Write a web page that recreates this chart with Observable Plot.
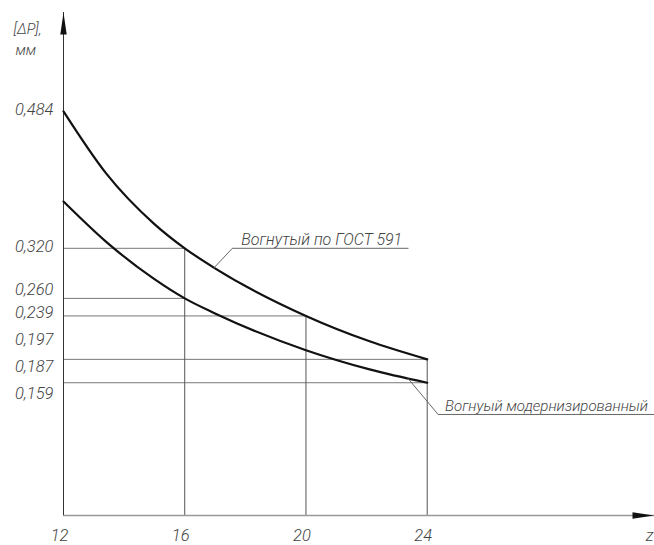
<!DOCTYPE html>
<html><head><meta charset="utf-8">
<script src="https://cdn.jsdelivr.net/npm/d3@7"></script>
<script src="https://cdn.jsdelivr.net/npm/@observablehq/plot@0.6"></script>
<style>body{margin:0;background:#fff} svg{display:block}</style>
</head><body><div id="chart"></div>
<script>
// ---- data ----
const zValues   = [12, 13.4, 15, 16, 17, 20, 22.1, 24];
const gost591   = [0.484, 0.410, 0.349, 0.320, 0.296, 0.239, 0.2086, 0.187];
const modern    = [0.376, 0.328, 0.283, 0.260, 0.242, 0.198, 0.175, 0.159];
const xTicks    = [12, 16, 20, 24];
const xTickLabels = ["12", "16", "20", "24"];
const yTicks    = [0.484, 0.320, 0.260, 0.239, 0.197, 0.187, 0.159];
const yTickLabels = ["0,484", "0,320", "0,260", "0,239", "0,197", "0,187", "0,159"];
const hGuideY   = [0.320, 0.260, 0.239, 0.187, 0.159];
const hGuideTo  = [16, 16, 20, 24, 24];
const vGuideX   = [16, 20, 24];
const vGuideTo  = [0.320, 0.239, 0.187];
const seriesNames = ["Вогнутый по ГОСТ 591", "Вогнуый модернизированный"];
const leaderGostX = [16.95, 17.57, 23.37];
const leaderGostY = [0.296, 0.320, 0.320];
const leaderModX  = [23.37, 24.36, 31.5];
const leaderModY  = [0.164, 0.121, 0.121];
const yAxisTitle = ["[ΔP],", "мм"];
const xAxisTitle = "z";

// ---- layout (not data) ----
const xMax = 31.5, yMax = 0.6024;
const yLabelNudge = [-2, -2, -9, -3, -11, 7, 11];
const font = "Roboto,'Open Sans',sans-serif";
const txt = {fontFamily: font, fontStyle: "italic", fontWeight: 300, fill: "#444", fontSize: 16.5};

const rows = (xs, ys) => xs.map((x, i) => ({x, y: ys[i]}));
const arrowHead = {draw(ctx) { ctx.moveTo(0, 0); ctx.lineTo(-3.2, 22); ctx.lineTo(3.2, 22); ctx.closePath(); }};

const marks = [
  // guides
  Plot.ruleY(hGuideY.map((y, i) => ({y, x2: hGuideTo[i]})), {y: "y", x1: 12, x2: "x2", stroke: "#777", strokeWidth: 1}),
  Plot.ruleX(vGuideX.map((x, i) => ({x, y2: vGuideTo[i]})), {x: "x", y1: 0, y2: "y2", stroke: "#555", strokeWidth: 1}),
  // axes
  Plot.ruleY([0], {x1: 12, x2: xMax, stroke: "#999", strokeWidth: 1.6}),
  Plot.ruleX([12], {y1: 0, y2: yMax, stroke: "#333", strokeWidth: 1}),
  Plot.dot([{x: 12, y: yMax}], {x: "x", y: "y", symbol: arrowHead, fill: "#111", stroke: null, r: 4}),
  Plot.dot([{x: xMax, y: 0}], {x: "x", y: "y", symbol: arrowHead, fill: "#111", stroke: null, r: 4, rotate: 90}),
  // curves
  Plot.line(rows(zValues, gost591), {x: "x", y: "y", curve: "monotone-x", stroke: "#111", strokeWidth: 2.2}),
  Plot.line(rows(zValues, modern), {x: "x", y: "y", curve: "monotone-x", stroke: "#111", strokeWidth: 2.2}),
  // leaders
  Plot.line(rows(leaderGostX, leaderGostY), {x: "x", y: "y", stroke: "#666", strokeWidth: 1}),
  Plot.line(rows(leaderModX, leaderModY), {x: "x", y: "y", stroke: "#666", strokeWidth: 1}),
  Plot.text([seriesNames[0]], {x: leaderGostX[1], y: leaderGostY[1], text: d => d, dx: 9, dy: -3, textAnchor: "start", lineAnchor: "bottom", ...txt, fontSize: 16}),
  Plot.text([seriesNames[1]], {x: leaderModX[1], y: leaderModY[1], text: d => d, dx: 7, dy: -3, textAnchor: "start", lineAnchor: "bottom", ...txt, fontSize: 15, letterSpacing: "0.2px"}),
  // x tick labels
  Plot.text(xTicks, {x: d => d, y: 0, text: (d, i) => xTickLabels[i], dx: -4, dy: 20, lineAnchor: "middle", ...txt}),
  Plot.text([xAxisTitle], {x: xMax, y: 0, text: d => d, dx: -1, dy: 20, textAnchor: "end", lineAnchor: "middle", ...txt}),
  // y axis title
  Plot.text([yAxisTitle[0]], {frameAnchor: "top-left", text: d => d, dx: -50, dy: 17, textAnchor: "start", lineAnchor: "middle", ...txt, fontSize: 14.5}),
  Plot.text([yAxisTitle[1]], {frameAnchor: "top-left", text: d => d, dx: -48, dy: 38, textAnchor: "start", lineAnchor: "middle", ...txt, fontSize: 14.5}),
  // y tick labels
  ...yTicks.map((v, i) => Plot.text([v], {x: 12, y: d => d, text: () => yTickLabels[i], dx: -10, dy: yLabelNudge[i], textAnchor: "end", lineAnchor: "middle", ...txt, letterSpacing: "-0.4px"}))
];

const chart = Plot.plot({
  width: 654, height: 545,
  marginLeft: 63, marginRight: 0, marginTop: 12, marginBottom: 30,
  x: {domain: [12, xMax], axis: null},
  y: {domain: [0, yMax], axis: null},
  style: {background: "#fff", overflow: "hidden"},
  marks
});
document.getElementById("chart").appendChild(chart);
</script>
</body></html>
